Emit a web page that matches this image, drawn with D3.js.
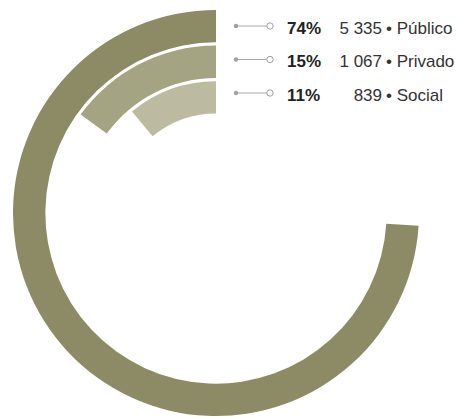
<!DOCTYPE html>
<html>
<head>
<meta charset="utf-8">
<script src="https://cdn.jsdelivr.net/npm/d3@7"></script>
<style>
  html, body { margin: 0; padding: 0; background: #fff; }
  svg { display: block; }
</style>
</head>
<body>
<svg id="chart" width="457" height="418"></svg>
<script>
const categories = ["Público", "Privado", "Social"];
const percents = [74, 15, 11];
const counts = ["5 335", "1 067", "839"];
const colors = ["#8c8b65", "#a4a382", "#bcbba1"];

const svg = d3.select("#chart");
const W = 457, H = 418;
const cx = 216, cy = 213;

const angle = d3.scaleLinear().domain([0, 100]).range([0, -2 * Math.PI]);
const ring = d3.scaleBand().domain(categories).range([0, 103.5]).paddingInner(0.09).paddingOuter(0);
const outerR = 203;

const arc = d3.arc()
  .innerRadius((d, i) => outerR - ring(categories[i]) - ring.bandwidth())
  .outerRadius((d, i) => outerR - ring(categories[i]))
  .startAngle(0)
  .endAngle(d => angle(d));

const g = svg.append("g").attr("transform", `translate(${cx},${cy})`);
g.selectAll("path")
  .data(percents)
  .join("path")
  .attr("d", (d, i) => arc(d, i))
  .attr("fill", (d, i) => colors[i]);

// legend
const rowY = d3.scalePoint().domain(categories).range([26, 93]);
const leg = svg.append("g");
const rows = leg.selectAll("g.row")
  .data(categories)
  .join("g")
  .attr("class", "row")
  .attr("transform", d => `translate(0,${rowY(d)})`);

rows.append("line")
  .attr("x1", 236).attr("x2", 267)
  .attr("y1", 0).attr("y2", 0)
  .attr("stroke", "#a8a8a8").attr("stroke-width", 1);
rows.append("circle")
  .attr("cx", 236).attr("cy", 0).attr("r", 2.2)
  .attr("fill", "#a0a0a0");
rows.append("circle")
  .attr("cx", 270).attr("cy", 0).attr("r", 3.2)
  .attr("fill", "#fff").attr("stroke", "#a0a0a0").attr("stroke-width", 1);

rows.append("text")
  .attr("x", 287).attr("y", 7.5)
  .attr("font-family", "'Liberation Sans', Arial, Helvetica, sans-serif")
  .attr("font-size", 17).attr("font-weight", "bold")
  .attr("fill", "#222")
  .text((d, i) => percents[i] + "%");

rows.append("text")
  .attr("x", 382).attr("y", 7.5)
  .attr("text-anchor", "end")
  .attr("font-family", "'Liberation Sans', Arial, Helvetica, sans-serif")
  .attr("font-size", 17)
  .attr("fill", "#333")
  .text((d, i) => counts[i]);

rows.append("text")
  .attr("x", 386).attr("y", 7.5)
  .attr("font-family", "'Liberation Sans', Arial, Helvetica, sans-serif")
  .attr("font-size", 17)
  .attr("fill", "#333")
  .text(d => "• " + d);
</script>
</body>
</html>
